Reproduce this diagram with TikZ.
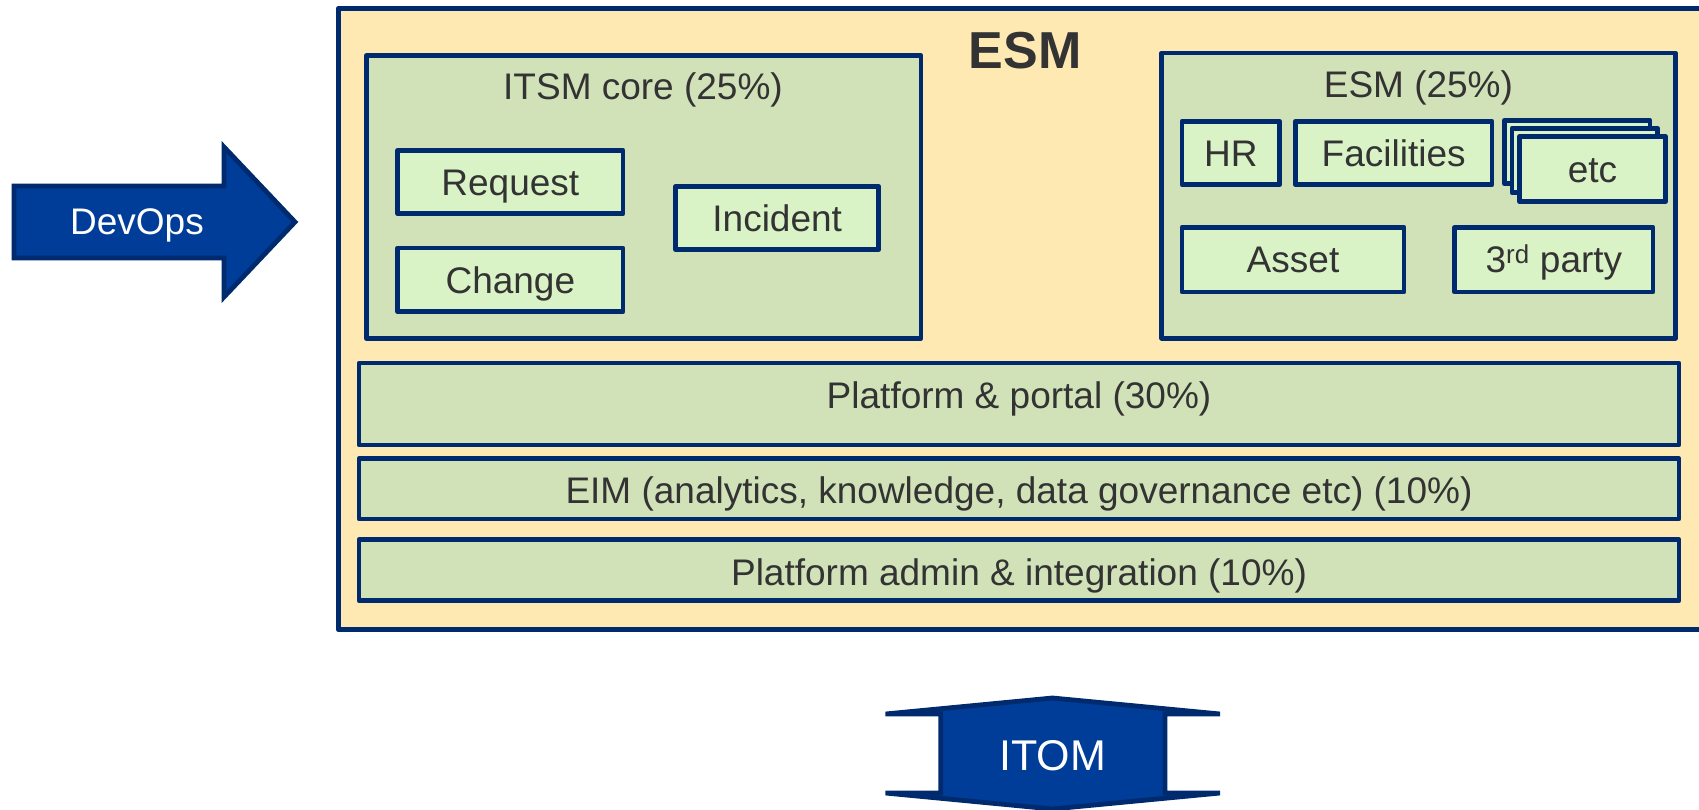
\documentclass[tikz,border=0pt]{standalone}
\usepackage{fontspec}
\setmainfont{Liberation Sans}
\definecolor{navy}{HTML}{002A6E}
\definecolor{arrowblue}{HTML}{003D99}
\definecolor{esmyellow}{HTML}{FFE9B3}
\definecolor{boxgreen}{HTML}{D1E2B8}
\definecolor{innergreen}{HTML}{D9F2C6}
\definecolor{txtgray}{HTML}{333333}
\tikzset{
  navyline/.style={draw=navy, line width=4.8pt, line join=round},
  panelbox/.style={navyline, fill=boxgreen, rectangle, inner sep=0pt},
  itembox/.style={navyline, fill=innergreen, rectangle, inner sep=0pt, text=txtgray,
    font=\fontsize{37}{43}\selectfont, text height=26.5pt, text depth=0pt},
  bandbox/.style={panelbox, minimum width=1320pt, text=txtgray,
    font=\fontsize{37}{43}\selectfont, text height=26.5pt, text depth=0pt},
  ttl/.style={text=txtgray, font=\fontsize{37}{43}\selectfont, anchor=base, inner sep=0pt},
  whitetxt/.style={text=white, anchor=base, inner sep=0pt},
  bigarrow/.style={draw=navy, fill=arrowblue, line width=4.8pt, line join=miter},
}
\begin{document}
\begin{tikzpicture}[x=1pt,y=-1pt]
\useasboundingbox (0,0) rectangle (1699,810);
\clip (0,0) rectangle (1699,810);
% outer ESM frame
\draw[navyline, fill=esmyellow] (338.3,8.3) rectangle (1720,629.7);
\node[ttl, font=\bfseries\fontsize{52}{60}\selectfont] (esmtitle) at (1025,69) {ESM};
% ITSM core
\node[panelbox, minimum width=554.7pt, minimum height=282.5pt] (itsm) at (643.65,197.05) {};
\node[ttl] (itsmtitle) at (643,100) {ITSM core (25\%)};
\node[itembox, minimum width=225.3pt, minimum height=63.4pt] (request) at (510.35,182) {Request};
\node[itembox, minimum width=225.3pt, minimum height=63.7pt] (change) at (510.35,279.85) {Change};
\node[itembox, minimum width=203pt, minimum height=63.4pt] (incident) at (777.2,218) {Incident};
% ESM 25%
\node[panelbox, minimum width=513.6pt, minimum height=285.3pt] (esmbox) at (1418.5,195.65) {};
\node[ttl] (esmboxtitle) at (1418.4,97.7) {ESM (25\%)};
\node[itembox, minimum width=97.7pt, minimum height=63.4pt] (hr) at (1230.85,153) {HR};
\node[itembox, minimum width=196.7pt, minimum height=63.4pt] (facilities) at (1393.65,153) {Facilities};
\node[itembox, minimum width=145.6pt, minimum height=63.5pt] (etcback) at (1577.1,152) {};
\node[itembox, minimum width=145.6pt, minimum height=64.4pt] (etcmid) at (1584.8,160.5) {};
\node[itembox, minimum width=145.6pt, minimum height=65.4pt] (etc) at (1592.5,169) {etc};
\node[itembox, minimum width=222pt, minimum height=64.7pt] (asset) at (1293,259.65) {Asset};
\node[itembox, minimum width=198.3pt, minimum height=64.7pt] (thirdparty) at (1553.85,259.65) {3\textsuperscript{rd} party};
% bands
\node[bandbox, minimum height=82pt, text depth=18.5pt] (platform) at (1019,404) {Platform \& portal (30\%)};
\node[bandbox, minimum height=60.3pt, text height=28.3pt] (eim) at (1019,488.85) {EIM (analytics, knowledge, data governance etc) (10\%)};
\node[bandbox, minimum height=61pt, text height=29.6pt] (admin) at (1019,570.2) {Platform admin \& integration (10\%)};
% DevOps arrow
\draw[bigarrow] (14,186) -- (224,186) -- (224,147) -- (295,222) -- (224,297) -- (224,258) -- (14,258) -- cycle;
\node[whitetxt, font=\fontsize{37}{42}\selectfont] (devops) at (137,235) {DevOps};
% ITOM double arrow
\draw[bigarrow] (1052.5,698) -- (1220,714) -- (1165,714) -- (1165,793) -- (1220,793) -- (1052.5,809)
  -- (885.5,793) -- (940.8,793) -- (940.8,714) -- (885.5,714) -- cycle;
\node[whitetxt, font=\fontsize{43}{48}\selectfont] (itom) at (1052.5,770) {ITOM};
\end{tikzpicture}
\end{document}
